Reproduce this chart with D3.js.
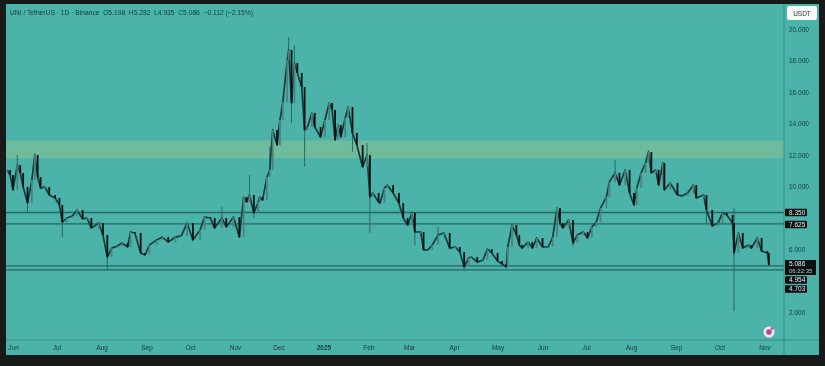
<!DOCTYPE html>
<html lang="en">
<head>
<meta charset="UTF-8">
<title>UNI / TetherUS</title>
<style>
    html, body { margin: 0; padding: 0; background: #171a19; overflow: hidden; }
    svg { display: block; filter: blur(0.55px); }
    text { font-family: "Liberation Sans", Arial, sans-serif; }
</style>
</head>
<body>
<script src="https://cdn.jsdelivr.net/npm/d3@7"></script>
<script type="text/javascript">
    var headerText = "UNI / TetherUS \u00b7 1D \u00b7 Binance  O5.198  H5.282  L4.935  C5.086  \u22120.112 (\u22122.15%)";

    // days after 2024-06-01 and the price at that day
    var days = [-4,-2,0,3,5,7,10,13,15,17,19,22,25,29,32,34,37,41,44,48,51,54,59,62,65,68,72,75,79,81,84,88,91,94,
        99,103,107,112,116,120,124,129,132,136,139,144,147,152,156,159,161,163,166,169,170,172,175,177,179,182,184,186,189,190,
        192,194,196,199,201,203,206,208,212,215,218,220,222,224,226,229,231,234,237,241,244,246,248,252,253,256,258,262,266,269,
        272,275,277,281,283,286,289,293,297,301,305,308,311,314,316,320,324,327,330,334,337,340,341,344,347,349,351,355,358,361,
        365,369,372,375,377,379,383,386,389,393,396,399,402,405,409,411,415,418,422,425,428,430,433,436,438,440,443,445,448,449,
        453,458,461,465,469,471,476,478,482,486,489,492,496,497,500,503,507,509,513,516,520,521];
    var closes = [11.05,10.73,9.78,11.36,10.86,9.97,8.95,10.41,12.0,10.6,9.9,9.97,9.46,9.27,8.82,7.74,8.0,8.13,8.51,7.94,8.0,7.36,7.68,6.92,5.52,6.09,6.22,6.41,6.16,7.11,7.05,5.78,5.65,6.28,
        6.6,6.79,6.47,6.79,6.86,7.68,6.6,7.24,8.06,8.0,7.36,8.0,7.43,8.06,6.79,9.33,9.01,9.46,8.32,9.01,9.33,9.14,10.6,11.05,13.59,12.63,14.22,15.36,18.03,18.67,
        15.3,17.84,17.21,16.32,13.59,13.78,14.67,13.78,13.14,14.22,15.3,14.86,12.95,13.9,13.14,14.35,15.05,13.4,12.63,11.24,12.0,9.33,9.59,9.01,8.95,9.9,10.09,9.59,8.95,8.0,
        7.55,8.32,7.11,7.11,5.97,5.97,6.28,6.92,7.05,6.09,6.16,5.84,4.89,5.46,5.52,5.2,5.33,6.03,5.78,5.27,5.08,4.89,6.16,7.55,6.92,6.28,6.09,6.47,6.09,6.73,
        6.16,6.16,6.79,8.63,7.68,7.36,7.87,6.41,6.92,7.11,6.73,7.43,7.74,8.63,9.33,10.28,10.86,10.09,11.05,9.59,8.82,9.9,10.86,11.49,12.19,10.86,11.05,10.09,11.49,9.78,
        10.22,9.46,9.4,9.59,10.09,9.27,9.46,8.51,7.49,7.68,8.32,8.19,7.68,5.78,7.05,6.09,6.28,6.09,6.73,5.9,5.78,5.01];

    // the wicks long enough to read, as [day, price]
    var wickHighs = [[3,12.0],[15,12.1],[144,8.7],[163,10.73],[177,12.51],[190,19.49],[194,18.98],[244,12.76],[293,7.43],[415,11.68],[438,12.3],[497,8.63]];
    var wickLows = [[10,8.4],[34,6.79],[65,4.7],[166,8.0],[192,14.03],[201,11.24],[234,12.2],[246,7.05],[277,6.28],[311,4.63],[386,6.2],[478,7.6],[497,2.09]];

    var priceTicks = [2,6,10,12,14,16,18,20];
    var monthTicks = ["2024-06-01","2024-07-01","2024-08-01","2024-09-01","2024-10-01","2024-11-01","2024-12-01","2025-01-01","2025-02-01","2025-03-01","2025-04-01","2025-05-01","2025-06-01","2025-07-01","2025-08-01","2025-09-01","2025-10-01","2025-11-01"];
    var levels = [8.35,7.625,4.954,4.703];
    var zone = [12.92,11.78];

    var width = 825, height = 366,
        plotLeft = 6, plotTop = 4, plotRight = 784, plotBottom = 340, plotEdge = 819, plotFoot = 355;

    var bg = "#4cb3aa", dark = "#071110", axisInk = "#123a3a", levelInk = "#246664";

    var startDay = new Date(Date.UTC(2024, 5, 1));
    function dayDate(d) { return new Date(startDay.getTime() + d * 864e5); }

    var x = d3.scaleUtc()
        .domain([startDay, new Date(Date.UTC(2025, 10, 1))])
        .range([13, 764.5]);
    var y = d3.scaleLinear()
        .domain([2, 20])
        .range([312.5, 29]);

    var svg = d3.select("body").append("svg")
        .attr("width", width)
        .attr("height", height);

    svg.append("rect")
        .attr("x", plotLeft).attr("y", plotTop)
        .attr("width", plotEdge - plotLeft).attr("height", plotFoot - plotTop)
        .attr("fill", bg);

    svg.append("rect")
        .attr("x", plotLeft).attr("y", y(zone[0]))
        .attr("width", plotRight - plotLeft).attr("height", y(zone[1]) - y(zone[0]))
        .attr("fill", "#6ebb9d");

    renderLevels();
    renderCandles();
    renderAxes();
    renderLabels();
    renderBadge();

    function renderLevels() {
        svg.append("g").selectAll("line")
            .data(levels)
            .enter().append("line")
            .attr("x1", plotLeft).attr("x2", plotRight)
            .attr("y1", function(d) { return y(d); })
            .attr("y2", function(d) { return y(d); })
            .attr("stroke", levelInk)
            .attr("stroke-width", 1.3);
    }

    function renderCandles() {
        var bars = days.map(function(d, i) {
            return {day: d, open: i ? closes[i - 1] : closes[0], close: closes[i]};
        });

        var line = d3.line()
            .x(function(d) { return x(dayDate(d.day)); })
            .y(function(d) { return y(d.close); });

        var wicks = svg.append("g").attr("stroke", "#2a6866").attr("stroke-width", 1);
        wickHighs.concat(wickLows).forEach(function(w) {
            var bar = bars.filter(function(b) { return b.day === w[0]; })[0];
            wicks.append("line")
                .attr("x1", x(dayDate(w[0]))).attr("x2", x(dayDate(w[0])))
                .attr("y1", y(w[1]))
                .attr("y2", y(bar.close));
        });

        svg.append("path")
            .datum(bars)
            .attr("fill", "none")
            .attr("stroke", "#123d3d")
            .attr("stroke-width", 1.7)
            .attr("stroke-linejoin", "round")
            .attr("d", line);

        svg.append("g").selectAll("rect")
            .data(bars)
            .enter().append("rect")
            .attr("x", function(d) { return x(dayDate(d.day)) - 0.9; })
            .attr("y", function(d) { return y(Math.max(d.open, d.close)); })
            .attr("width", 1.8)
            .attr("height", function(d) { return Math.max(1, Math.abs(y(d.open) - y(d.close))); })
            .attr("fill", function(d) { return d.close >= d.open ? "#4f807e" : dark; });
    }

    function renderAxes() {
        var xAxis = d3.axisBottom(x)
            .tickValues(monthTicks.map(function(s) { return new Date(s); }))
            .tickSize(0)
            .tickPadding(5)
            .tickFormat(function(d) {
                return d.getUTCMonth() === 0 ? d.getUTCFullYear() : d3.utcFormat("%b")(d);
            });
        var gx = svg.append("g")
            .attr("transform", "translate(0," + plotBottom + ")")
            .call(xAxis);
        gx.select(".domain").remove();
        gx.selectAll("text")
            .attr("font-size", 6.5)
            .attr("fill", axisInk)
            .attr("font-weight", function(d) { return d.getUTCMonth() === 0 ? "bold" : "normal"; });

        svg.append("line")
            .attr("x1", plotLeft).attr("x2", plotEdge)
            .attr("y1", plotBottom).attr("y2", plotBottom)
            .attr("stroke", "#3a8d86");
        svg.append("line")
            .attr("x1", plotRight).attr("x2", plotRight)
            .attr("y1", plotTop).attr("y2", plotFoot)
            .attr("stroke", "#3a8d86");

        var yAxis = d3.axisRight(y)
            .tickValues(priceTicks)
            .tickSize(0)
            .tickPadding(5)
            .tickFormat(d3.format(".3f"));
        var gy = svg.append("g")
            .attr("transform", "translate(" + plotRight + ",0)")
            .call(yAxis);
        gy.select(".domain").remove();
        gy.selectAll("text")
            .attr("font-size", 6.5)
            .attr("fill", axisInk);
    }

    function priceTag(label, cy, w) {
        svg.append("rect")
            .attr("x", plotRight + 1).attr("y", cy - 3.8)
            .attr("width", w).attr("height", 7.6).attr("rx", 1)
            .attr("fill", "#0a0f0f");
        svg.append("text")
            .attr("x", plotRight + 5).attr("y", cy + 2.3)
            .attr("font-size", 6.5)
            .attr("fill", "#e8f0ef")
            .text(label);
    }

    function renderLabels() {
        svg.append("text")
            .attr("x", 10).attr("y", 15)
            .attr("font-size", 6.7)
            .attr("fill", "#123c3c")
            .style("white-space", "pre")
            .text(headerText);

        svg.append("rect")
            .attr("x", 787).attr("y", 6)
            .attr("width", 30).attr("height", 14).attr("rx", 2)
            .attr("fill", "#f6f8f8");
        svg.append("text")
            .attr("x", 802).attr("y", 15.5)
            .attr("text-anchor", "middle")
            .attr("font-size", 6.5)
            .attr("fill", "#333")
            .text("USDT");

        var fmt = d3.format(".3f");
        priceTag(fmt(levels[0]), 212.5, 22);
        priceTag(fmt(levels[1]), 224.5, 22);

        svg.append("rect")
            .attr("x", plotRight + 1).attr("y", 260)
            .attr("width", 31).attr("height", 15)
            .attr("fill", "#0a0f0f");
        svg.append("text")
            .attr("x", plotRight + 5).attr("y", 266)
            .attr("font-size", 6.5)
            .attr("fill", "#e8f0ef")
            .text("5.086");
        svg.append("text")
            .attr("x", plotRight + 5).attr("y", 273)
            .attr("font-size", 6)
            .attr("fill", "#b9c6c5")
            .text("06:22:35");

        priceTag(fmt(levels[2]), 280, 22);
        priceTag(fmt(levels[3]), 289, 22);
    }

    function renderBadge() {
        var badge = svg.append("g").attr("transform", "translate(769,332)");
        badge.append("circle").attr("r", 5.5).attr("fill", "#f3e6f2");
        badge.append("circle").attr("r", 2.8).attr("fill", "#b0478f");
        badge.append("circle").attr("cx", 3).attr("cy", -3.4).attr("r", 1.4).attr("fill", "#e8503f");
    }
</script>
</body>
</html>
